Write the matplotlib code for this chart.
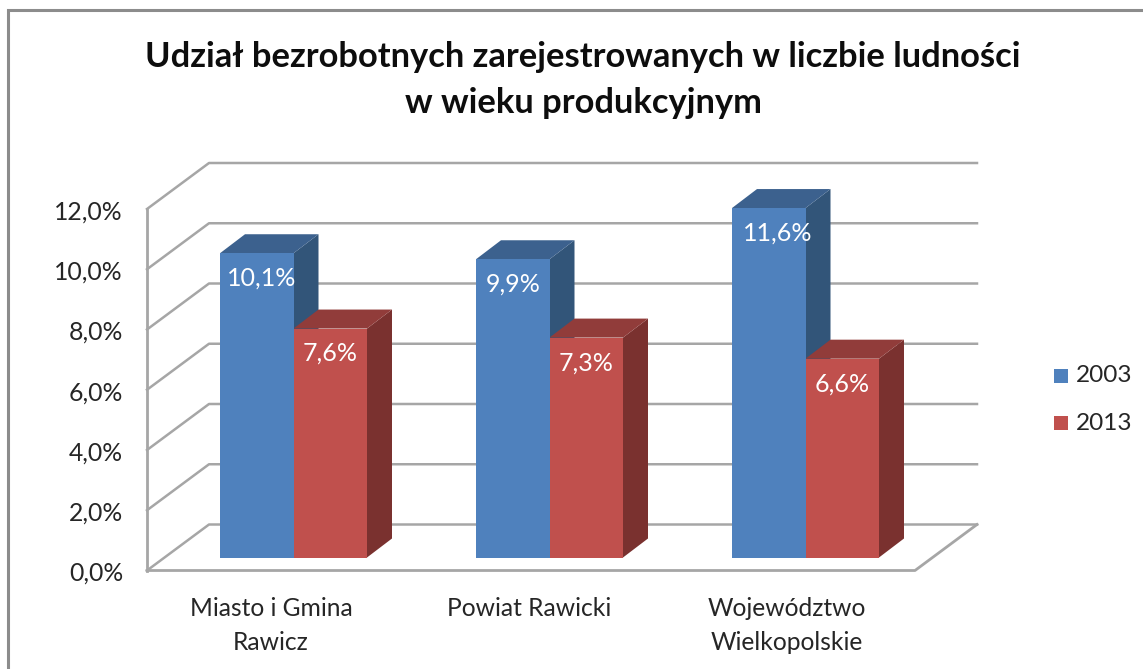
import matplotlib
matplotlib.use('Agg')
import matplotlib.pyplot as plt
from matplotlib.patches import Polygon, Rectangle

# data
categories = ['Miasto i Gmina\nRawicz', 'Powiat Rawicki', 'Województwo\nWielkopolskie']
years = ['2003', '2013']
values_2003 = [10.1, 9.9, 11.6]
values_2013 = [7.6, 7.3, 6.6]
labels_2003 = ['10,1%', '9,9%', '11,6%']
labels_2013 = ['7,6%', '7,3%', '6,6%']
y_ticks = [0, 2, 4, 6, 8, 10, 12]
y_tick_labels = ['0,0%', '2,0%', '4,0%', '6,0%', '8,0%', '10,0%', '12,0%']
title = 'Udział bezrobotnych zarejestrowanych w liczbie ludności\nw wieku produkcyjnym'

W, H = 1143, 669
plt.rcParams['font.family'] = ['Lato', 'DejaVu Sans']

fig = plt.figure(figsize=(W / 100, H / 100), dpi=100)
# front plane of the fake 3d box
ax = fig.add_axes([147 / W, 1 - 570.5 / H, (915 - 147) / W, (570.5 - 209) / H])
ax.set_xlim(0, 3)
ax.set_ylim(0, 12)
ax.axis('off')

# pixel sizes in data units
px = 3 / (915 - 147)
py = 12 / (570.5 - 209)
grey = '#a6a6a6'
depth_x, depth_y = 62 * px, 46 * py

# outer chart frame
fig.add_artist(Rectangle((8 / W, -0.05), 1.1, 1 - 10 / H + 0.05, transform=fig.transFigure,
                         fill=False, ec='#8c8c8c', lw=2.2))

# walls and gridlines
ax.plot([0, 0], [0, 12], color=grey, lw=2, clip_on=False, zorder=2)
for t in y_ticks:
    ax.plot([0, depth_x, 3 + depth_x], [t, t + depth_y, t + depth_y],
            color=grey, lw=1.8, clip_on=False, zorder=1)
ax.plot([0, 3, 3 + depth_x], [0, 0, depth_y], color=grey, lw=2, clip_on=False, zorder=2)

for t, lab in zip(y_ticks, y_tick_labels):
    ax.text(-24 * px, t - 3 * py, lab, ha='right', va='center', fontsize=17.8, color='#262626')


def bar3d(x, val, w, front, top, side):
    bx = x + 18.5 * px
    by = 13 * py
    dx, dy = 25 * px, 19 * py
    ax.add_patch(Polygon([(bx + w, by), (bx + w + dx, by + dy), (bx + w + dx, by + val + dy), (bx + w, by + val)],
                         fc=side, ec='none', clip_on=False, zorder=3))
    ax.add_patch(Polygon([(bx, by + val), (bx + dx, by + val + dy), (bx + w + dx, by + val + dy), (bx + w, by + val)],
                         fc=top, ec='none', clip_on=False, zorder=3))
    ax.add_patch(Rectangle((bx, by), w, val, fc=front, ec='none', clip_on=False, zorder=4))


bar_w = 73.5 * px
# small nudges, in pixels, for the text placed as in the original
nudge_2003 = [4.5, 0, 9]
nudge_cat = [-4, -2, 0]
for i in range(3):
    x0 = i + 0.5 - bar_w
    bar3d(x0, values_2003[i], bar_w, '#4f81bd', '#3c618e', '#325579')
    bar3d(x0 + bar_w, values_2013[i], bar_w, '#c0504d', '#913c3a', '#7a312f')
    ax.text(x0 + (18.5 + nudge_2003[i]) * px + bar_w / 2, values_2003[i] + 13 * py - 25 * py, labels_2003[i],
            ha='center', va='center', color='white', fontsize=18, zorder=5)
    ax.text(x0 + bar_w + 18.5 * px + bar_w / 2, values_2013[i] + 13 * py - 25 * py, labels_2013[i],
            ha='center', va='center', color='white', fontsize=18, zorder=5)
    ax.text(i + 0.5 + nudge_cat[i] * px, -26 * py, categories[i], ha='center', va='top', fontsize=17.7,
            color='#262626', linespacing=1.6)

fig.text(583 / W, 1 - 80 / H, title, ha='center', va='center', fontsize=24.8, fontweight='bold',
         color='#0d0d0d', linespacing=1.55)

# legend
for yr, c, yp in zip(years, ['#4f81bd', '#c0504d'], [376, 423]):
    fig.add_artist(Rectangle((1054 / W, 1 - (yp + 7) / H), 14 / W, 14 / H, transform=fig.transFigure,
                             fc=c, ec='none'))
    fig.text(1076 / W, 1 - yp / H, yr, ha='left', va='center', fontsize=17.6, color='#262626')

fig.savefig('out.png', dpi=100)
